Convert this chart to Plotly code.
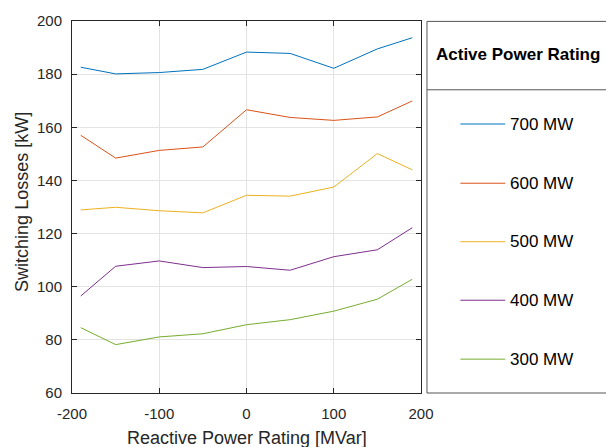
import plotly.graph_objects as go

# ---- data ----
reactive_mvar = [-190, -150, -100, -50, 0, 50, 100, 150, 190]
series_names = ["700 MW", "600 MW", "500 MW", "400 MW", "300 MW"]
loss_700 = [182.6, 180.1, 180.6, 181.8, 188.3, 187.8, 182.2, 189.5, 193.7]
loss_600 = [157.0, 148.4, 151.3, 152.6, 166.6, 163.7, 162.6, 163.9, 169.9]
loss_500 = [128.9, 129.9, 128.6, 127.8, 134.4, 134.1, 137.5, 150.1, 144.0]
loss_400 = [96.5, 107.7, 109.7, 107.2, 107.6, 106.2, 111.3, 113.9, 122.2]
loss_300 = [84.6, 78.2, 81.1, 82.3, 85.7, 87.6, 90.8, 95.3, 102.8]
series_values = [loss_700, loss_600, loss_500, loss_400, loss_300]
colors = ["#0072BD", "#D95319", "#EDB120", "#7E2F8E", "#77AC30"]
x_ticks = [-200, -100, 0, 100, 200]
y_ticks = [60, 80, 100, 120, 140, 160, 180, 200]
legend_title = "Active Power Rating"
x_title = "Reactive Power Rating [MVar]"
y_title = "Switching Losses [kW]"

FONT = "Liberation Sans, Arial, sans-serif"
AX = "#262626"

W, H = 606, 447
L, R, T, B = 71.5, 421.5, 16.3, 393.3

fig = go.Figure()
for name, vals, col in zip(series_names, series_values, colors):
    fig.add_trace(go.Scatter(x=reactive_mvar, y=vals, mode="lines", name=name,
                             line=dict(color=col, width=1), showlegend=False))

axis_common = dict(showline=True, linecolor=AX, linewidth=1, mirror="ticks",
                   ticks="inside", ticklen=5, tickcolor=AX, tickwidth=1,
                   showgrid=True, gridcolor="#e3e3e3", gridwidth=1,
                   zeroline=False, tickfont=dict(family=FONT, size=15, color=AX))

fig.update_xaxes(range=[-200, 200], tickvals=x_ticks, ticktext=[str(v) for v in x_ticks],
                 ticklabelstandoff=7, **axis_common)
fig.update_yaxes(range=[60, 200], tickvals=y_ticks, ticktext=[str(v) for v in y_ticks],
                 ticklabelstandoff=6, **axis_common)

pw, ph = R - L, B - T
def px(xp):
    return (xp - L) / pw
def py(yp):
    return (B - yp) / ph

annotations = [
    dict(text=x_title, x=0.5, y=py(438.5), xref="paper", yref="paper",
         xanchor="center", yanchor="middle", showarrow=False,
         font=dict(family=FONT, size=18, color=AX)),
    dict(text=y_title, x=px(22), y=py(200), xref="paper", yref="paper",
         xanchor="center", yanchor="middle", showarrow=False, textangle=-90,
         font=dict(family=FONT, size=18, color=AX)),
    dict(text="<b>" + legend_title + "</b>", x=px(519), y=py(50), xref="paper", yref="paper",
         xanchor="center", yanchor="middle", showarrow=False,
         font=dict(family=FONT, size=17, color="#000000")),
]

shapes = [
    dict(type="rect", xref="paper", yref="paper", x0=px(427.5), x1=px(620), y0=py(393.3), y1=py(16.7),
         line=dict(color="#555555", width=1), fillcolor="rgba(0,0,0,0)"),
    dict(type="line", xref="paper", yref="paper", x0=px(427.5), x1=px(620), y0=py(86), y1=py(86),
         line=dict(color="#555555", width=1)),
]

entry_y = [120.7, 180.7, 240, 299.3, 359]
for name, col, ey in zip(series_names, colors, entry_y):
    shapes.append(dict(type="line", xref="paper", yref="paper", x0=px(461), x1=px(506),
                       y0=py(ey), y1=py(ey), line=dict(color=col, width=1)))
    annotations.append(dict(text=name, x=px(509), y=py(ey), xref="paper", yref="paper",
                            xanchor="left", yanchor="middle", showarrow=False,
                            font=dict(family=FONT, size=17, color="#000000")))

fig.update_layout(width=W, height=H, autosize=False,
                  margin=dict(l=L, r=W - R, t=T, b=H - B, pad=0),
                  paper_bgcolor="white", plot_bgcolor="white",
                  annotations=annotations, shapes=shapes,
                  font=dict(family=FONT, color=AX))

fig.write_html("out.html", config={"displayModeBar": False},
               post_script="document.body.style.margin='0';document.body.style.overflow='hidden';")
